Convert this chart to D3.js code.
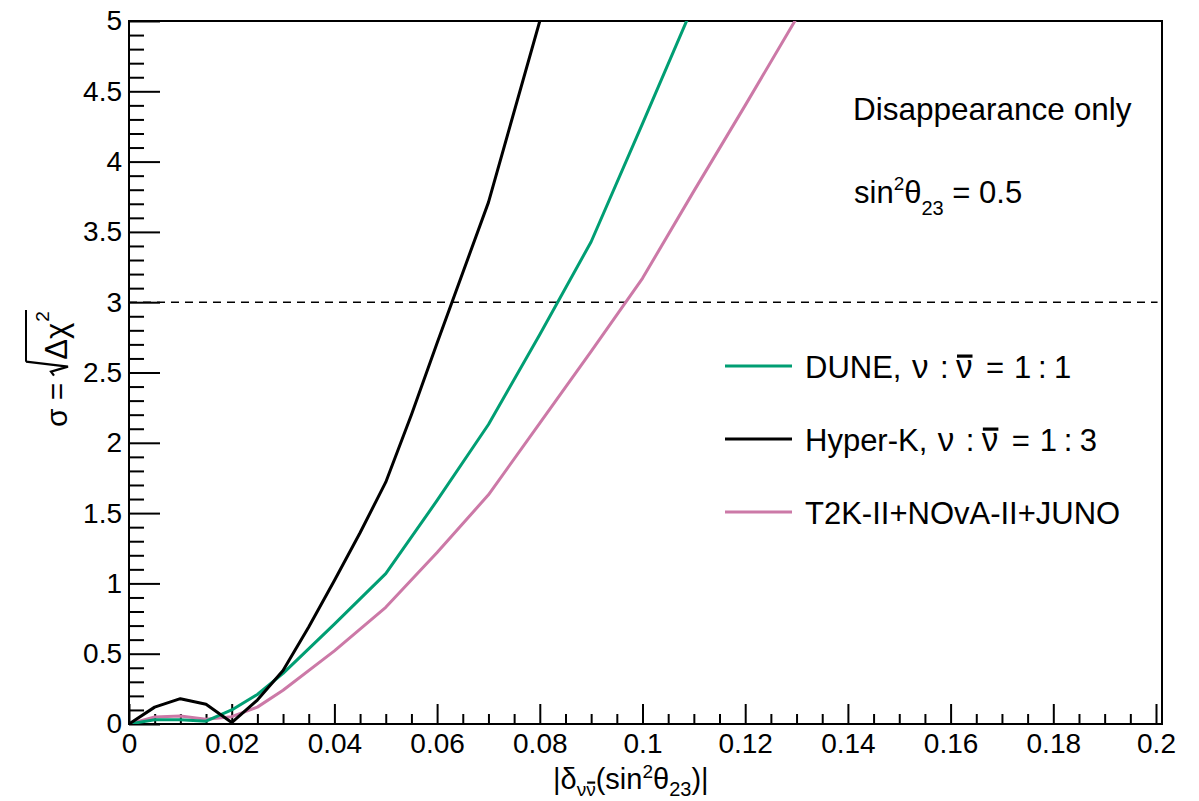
<!DOCTYPE html>
<html>
<head>
<meta charset="utf-8">
<script src="https://cdn.jsdelivr.net/npm/d3@7"></script>
<style>
  body { margin: 0; background: #fff; }
  svg { display: block; }
  text { font-family: "Liberation Sans", Arial, Helvetica, sans-serif; fill: #000; white-space: pre; }
</style>
</head>
<body>
<svg id="chart" width="1199" height="801"></svg>
<script>
// ---- data ----
const xTickValues = [0, 0.02, 0.04, 0.06, 0.08, 0.1, 0.12, 0.14, 0.16, 0.18, 0.2];
const xTickLabels = ["0", "0.02", "0.04", "0.06", "0.08", "0.1", "0.12", "0.14", "0.16", "0.18", "0.2"];
const yTickValues = [0, 0.5, 1, 1.5, 2, 2.5, 3, 3.5, 4, 4.5, 5];
const yTickLabels = ["0", "0.5", "1", "1.5", "2", "2.5", "3", "3.5", "4", "4.5", "5"];

const duneDelta  = [0, 0.005, 0.01, 0.015, 0.02, 0.025, 0.03, 0.04, 0.05, 0.06, 0.07, 0.08, 0.09, 0.1, 0.11];
const duneSigma  = [0, 0.03, 0.03, 0.02, 0.10, 0.21, 0.36, 0.71, 1.07, 1.59, 2.13, 2.77, 3.43, 4.27, 5.12];

const hyperkDelta = [0, 0.005, 0.01, 0.015, 0.02, 0.025, 0.03, 0.035, 0.04, 0.045, 0.05, 0.055, 0.06, 0.07, 0.08];
const hyperkSigma = [0, 0.12, 0.18, 0.14, 0.01, 0.17, 0.38, 0.69, 1.02, 1.36, 1.72, 2.2, 2.71, 3.71, 5.0];

const comboDelta = [0, 0.005, 0.01, 0.015, 0.02, 0.025, 0.03, 0.04, 0.05, 0.06, 0.07, 0.08, 0.09, 0.1, 0.11, 0.12, 0.13];
const comboSigma = [0, 0.05, 0.057, 0.033, 0.052, 0.12, 0.24, 0.52, 0.83, 1.22, 1.63, 2.14, 2.65, 3.17, 3.79, 4.40, 5.02];

const seriesNames = ["DUNE", "Hyper-K", "T2K-II+NOvA-II+JUNO"];
const seriesRatios = ["1 : 1", "1 : 3", null];
const seriesColors = ["#009e73", "#000000", "#cc79a7"];
const thresholdSigma = 3;

// ---- layout ----
const svg = d3.select("#chart");
const plot = { left: 129, right: 1162, top: 21, bottom: 724 };
const xMax = 0.2 * (plot.right - plot.left) / (1156 - plot.left);

const x = d3.scaleLinear().domain([0, xMax]).range([plot.left, plot.right]);
const y = d3.scaleLinear().domain([0, 5]).range([plot.bottom, plot.top]);

svg.append("defs").append("clipPath").attr("id", "plotClip")
  .append("rect")
  .attr("x", plot.left).attr("y", plot.top)
  .attr("width", plot.right - plot.left).attr("height", plot.bottom - plot.top);

// ---- axes (ticks point into the frame) ----
const yMinor = d3.range(0, 5.0001, 0.1).map(v => +v.toFixed(2)).filter(v => !yTickValues.includes(v));
const xMinor = d3.range(0, 0.2001, 0.005).map(v => +v.toFixed(3)).filter(v => !xTickValues.includes(v));

const yAxis = svg.append("g").attr("transform", `translate(${plot.left},0)`)
  .call(d3.axisLeft(y).tickValues(yTickValues)
    .tickFormat((d, i) => yTickLabels[i])
    .tickSizeInner(-31).tickSizeOuter(0).tickPadding(7));
const yAxisMinor = svg.append("g").attr("transform", `translate(${plot.left},0)`)
  .call(d3.axisLeft(y).tickValues(yMinor).tickFormat("")
    .tickSizeInner(-15).tickSizeOuter(0));

const xAxis = svg.append("g").attr("transform", `translate(0,${plot.bottom})`)
  .call(d3.axisBottom(x).tickValues(xTickValues)
    .tickFormat((d, i) => xTickLabels[i])
    .tickSizeInner(-20).tickSizeOuter(0).tickPadding(9));
const xAxisMinor = svg.append("g").attr("transform", `translate(0,${plot.bottom})`)
  .call(d3.axisBottom(x).tickValues(xMinor).tickFormat("")
    .tickSizeInner(-10).tickSizeOuter(0));

[yAxis, yAxisMinor, xAxis, xAxisMinor].forEach(g => {
  g.select(".domain").remove();
  g.selectAll(".tick line").attr("stroke", "#000").attr("stroke-width", 2);
  g.selectAll(".tick text")
    .style("font-family", '"Liberation Sans", Arial, sans-serif')
    .style("font-size", "28px").attr("fill", "#000");
});

// frame
svg.append("rect")
  .attr("x", plot.left).attr("y", plot.top)
  .attr("width", plot.right - plot.left).attr("height", plot.bottom - plot.top)
  .attr("fill", "none").attr("stroke", "#000").attr("stroke-width", 2);

// 3 sigma reference
svg.append("line")
  .attr("x1", x(0)).attr("x2", x(0.2003))
  .attr("y1", y(thresholdSigma)).attr("y2", y(thresholdSigma))
  .attr("stroke", "#000").attr("stroke-width", 1.6)
  .attr("stroke-dasharray", "8,6");

// ---- curves ----
const line = d3.line().x(d => x(d[0])).y(d => y(d[1]));
const curves = [
  d3.zip(duneDelta, duneSigma),
  d3.zip(hyperkDelta, hyperkSigma),
  d3.zip(comboDelta, comboSigma)
];
const curveG = svg.append("g").attr("clip-path", "url(#plotClip)");
// draw order: combination, DUNE, Hyper-K on top
[2, 0, 1].forEach(i => {
  curveG.append("path")
    .datum(curves[i])
    .attr("d", line)
    .attr("fill", "none")
    .attr("stroke", seriesColors[i])
    .attr("stroke-width", 3)
    .attr("stroke-linejoin", "round");
});

// ---- legend ----
const legendBase = [378, 451, 524];
// offsets of the words after the experiment name (nu, colon, nubar, equals, n, colon, m)
const pieceOffsets = [0, 28, 44, 74, 102, 126, 142];
const nameWidth = name => {
  const t = svg.append("text").style("font-size", "31px").text(name + ",");
  const w = t.node().getComputedTextLength();
  t.remove();
  return w;
};
const refNameWidth = nameWidth(seriesNames[0]);
seriesNames.forEach((name, i) => {
  const base = legendBase[i];
  svg.append("line")
    .attr("x1", 725).attr("x2", 792)
    .attr("y1", base - 12).attr("y2", base - 12)
    .attr("stroke", seriesColors[i]).attr("stroke-width", 3);
  if (!seriesRatios[i]) {
    svg.append("text").attr("x", 805).attr("y", base)
      .style("font-size", "31px").text(name);
    return;
  }
  const [n, m] = seriesRatios[i].split(" : ");
  svg.append("text").attr("x", 805).attr("y", base).style("font-size", "31px").text(name + ",");
  const start = 912 + (nameWidth(name) - refNameWidth);
  const words = ["\u03bd", ":", "\u03bd", "=", n, ":", m];
  words.forEach((w, k) => {
    const isNu = w === "\u03bd";
    const t = svg.append("text").attr("x", start + pieceOffsets[k]).attr("y", base)
      .style("font-size", isNu ? "33px" : "31px").text(w);
    if (k === 2) {
      const b = t.node().getBBox();
      svg.append("rect")
        .attr("x", b.x + 1).attr("y", base - 23.5)
        .attr("width", b.width - 1).attr("height", 3.2)
        .attr("fill", "#000");
    }
  });
});

// ---- annotations ----
svg.append("text").attr("x", 853).attr("y", 120)
  .style("font-size", "31.5px").text("Disappearance only");

const ann = svg.append("text").attr("x", 854).attr("y", 203).style("font-size", "31px");
ann.append("tspan").text("sin");
ann.append("tspan").attr("dy", -13).style("font-size", "19px").text("2");
ann.append("tspan").attr("dy", 13).text("\u03b8");
ann.append("tspan").attr("dy", 12).style("font-size", "20px").text("23");
ann.append("tspan").attr("dy", -12).text(" = 0.5");

// ---- x title ----
const xt = svg.append("text").attr("x", 553).attr("y", 789).style("font-size", "29px");
xt.append("tspan").text("|\u03b4");
xt.append("tspan").attr("dy", 7).style("font-size", "19px").text("\u03bd\u03bd");
xt.append("tspan").attr("dy", -7).text("(sin");
xt.append("tspan").attr("dy", -11).style("font-size", "19px").text("2");
xt.append("tspan").attr("dy", 11).text("\u03b8");
xt.append("tspan").attr("dy", 7).style("font-size", "20px").text("23");
xt.append("tspan").attr("dy", -7).text(")|");
{
  const box = xt.node().getExtentOfChar(3);
  svg.append("rect")
    .attr("x", box.x + 1).attr("y", 781.5)
    .attr("width", box.width - 1.5).attr("height", 2.2)
    .attr("fill", "#000");
}

// ---- y title: sigma = sqrt(delta chi^2) ----
const yt = svg.append("g").attr("transform", "translate(67,427) rotate(-90)");
const ytA = yt.append("text").attr("x", 0).attr("y", 0).style("font-size", "30px").text("\u03c3 =");
const wA = ytA.node().getComputedTextLength();
const r0 = wA + 7;
yt.append("path")
  .attr("d", `M${r0},-13 L${r0 + 4},-16 L${r0 + 9},1 L${r0 + 14},-41`)
  .attr("fill", "none").attr("stroke", "#000").attr("stroke-width", 2.2)
  .attr("stroke-linejoin", "miter");
const ytB = yt.append("text").attr("x", r0 + 16).attr("y", 0).style("font-size", "31px").text("\u0394\u03c7");
const wB = ytB.node().getComputedTextLength();
const ytC = yt.append("text").attr("x", r0 + 17 + wB).attr("y", -18).style("font-size", "19px").text("2");
const wC = ytC.node().getComputedTextLength();
yt.append("line")
  .attr("x1", r0 + 14).attr("x2", r0 + 18 + wB + wC)
  .attr("y1", -41).attr("y2", -41)
  .attr("stroke", "#000").attr("stroke-width", 2);
</script>
</body>
</html>
